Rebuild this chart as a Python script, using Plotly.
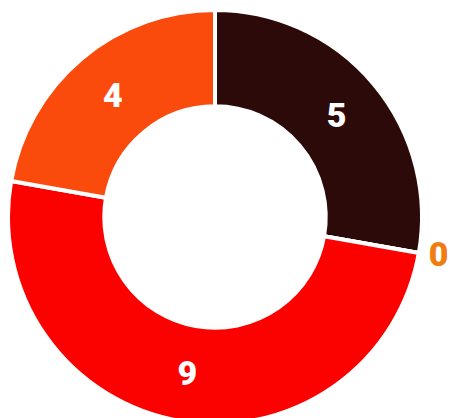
import plotly.graph_objects as go

labels = ["A", "B", "C", "D"]
values = [5, 0, 9, 4]
colors = ["#2c0a0a", "#f07d10", "#fb0200", "#fa4b0c"]
text_colors = ["#ffffff", "#f07d10", "#ffffff", "#ffffff"]
positions = ["inside", "outside", "inside", "inside"]

fig = go.Figure(go.Pie(
    labels=labels,
    values=values,
    text=[str(v) for v in values],
    textinfo="text",
    textposition=positions,
    insidetextorientation="horizontal",
    sort=False,
    direction="clockwise",
    rotation=0,
    hole=0.535,
    marker=dict(colors=colors, line=dict(color="white", width=4)),
    textfont=dict(family="Roboto", size=34, color=text_colors, weight=900),
    outsidetextfont=dict(family="Roboto", size=34, color="#f07d10", weight=900),
    showlegend=False,
    automargin=False,
    domain=dict(x=[0.0, 414/466], y=[0.0, 1.0]),
))
fig.update_layout(
    width=466, height=418,
    margin=dict(l=0, r=0, t=0, b=0),
    paper_bgcolor="white", plot_bgcolor="white",
)
fig.write_html("out.html")
